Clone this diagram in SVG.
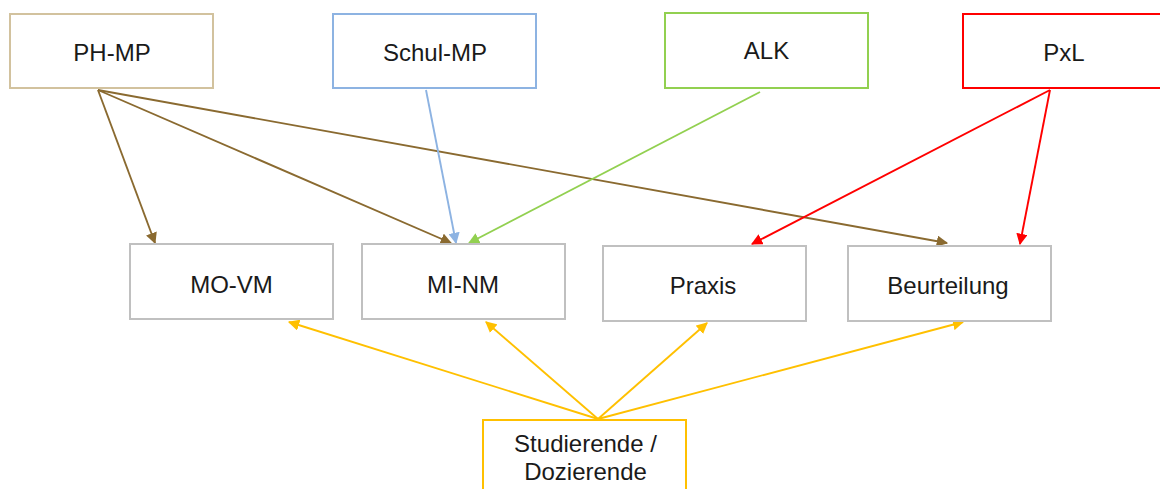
<svg xmlns="http://www.w3.org/2000/svg" width="1160" height="489" viewBox="0 0 1160 489">
  <style>
    .box { fill: #ffffff; stroke-width: 2; }
    .lbl { font-family: "Liberation Sans", Arial, sans-serif; font-size: 24px; fill: #1a1a1a; text-anchor: middle; }
    .edge { fill: none; stroke-width: 1.9; }
  </style>
  <defs>
    <marker id="ah-brown" viewBox="0 0 10 10" refX="9" refY="5" markerWidth="6" markerHeight="6" markerUnits="strokeWidth" orient="auto">
      <path d="M0,0 L10,5 L0,10 z" fill="#8a6a30"/>
    </marker>
    <marker id="ah-blue" viewBox="0 0 10 10" refX="9" refY="5" markerWidth="6" markerHeight="6" markerUnits="strokeWidth" orient="auto">
      <path d="M0,0 L10,5 L0,10 z" fill="#8db3e2"/>
    </marker>
    <marker id="ah-green" viewBox="0 0 10 10" refX="9" refY="5" markerWidth="6" markerHeight="6" markerUnits="strokeWidth" orient="auto">
      <path d="M0,0 L10,5 L0,10 z" fill="#92d050"/>
    </marker>
    <marker id="ah-red" viewBox="0 0 10 10" refX="9" refY="5" markerWidth="6" markerHeight="6" markerUnits="strokeWidth" orient="auto">
      <path d="M0,0 L10,5 L0,10 z" fill="#ff0000"/>
    </marker>
    <marker id="ah-yellow" viewBox="0 0 10 10" refX="9" refY="5" markerWidth="6" markerHeight="6" markerUnits="strokeWidth" orient="auto">
      <path d="M0,0 L10,5 L0,10 z" fill="#ffc000"/>
    </marker>
  </defs>
  <rect width="1160" height="489" fill="#ffffff"/>

  <!-- connectors -->
  <g id="connectors">
    <line class="edge" stroke="#8a6a30" x1="98" y1="90" x2="155" y2="243" marker-end="url(#ah-brown)"/>
    <line class="edge" stroke="#8a6a30" x1="98" y1="90" x2="451" y2="243" marker-end="url(#ah-brown)"/>
    <line class="edge" stroke="#8a6a30" x1="98" y1="90" x2="947" y2="243" marker-end="url(#ah-brown)"/>
    <line class="edge" stroke="#8db3e2" x1="426" y1="90" x2="456" y2="243" marker-end="url(#ah-blue)"/>
    <line class="edge" stroke="#92d050" x1="760" y1="92" x2="469" y2="243" marker-end="url(#ah-green)"/>
    <line class="edge" stroke="#ff0000" x1="1050" y1="90" x2="752" y2="244" marker-end="url(#ah-red)"/>
    <line class="edge" stroke="#ff0000" x1="1050" y1="90" x2="1020" y2="244" marker-end="url(#ah-red)"/>
    <line class="edge" stroke="#ffc000" x1="598" y1="419" x2="289" y2="322" marker-end="url(#ah-yellow)"/>
    <line class="edge" stroke="#ffc000" x1="598" y1="419" x2="486" y2="322" marker-end="url(#ah-yellow)"/>
    <line class="edge" stroke="#ffc000" x1="598" y1="419" x2="707" y2="323" marker-end="url(#ah-yellow)"/>
    <line class="edge" stroke="#ffc000" x1="598" y1="419" x2="963" y2="322" marker-end="url(#ah-yellow)"/>
  </g>

  <!-- top row -->
  <g id="ph-mp">
    <rect class="box" stroke="#d2c29e" x="10" y="14" width="203" height="74"/>
    <text class="lbl" x="112" y="61">PH-MP</text>
  </g>
  <g id="schul-mp">
    <rect class="box" stroke="#8db3e2" x="333" y="14" width="203" height="74"/>
    <text class="lbl" x="435" y="61">Schul-MP</text>
  </g>
  <g id="alk">
    <rect class="box" stroke="#92d050" x="665" y="13" width="203" height="75"/>
    <text class="lbl" x="766.5" y="59">ALK</text>
  </g>
  <g id="pxl">
    <rect class="box" stroke="#ff0000" x="963" y="14" width="203" height="74"/>
    <text class="lbl" x="1064" y="61">PxL</text>
  </g>

  <!-- middle row -->
  <g id="mo-vm">
    <rect class="box" stroke="#c0c0c0" x="130" y="244" width="203" height="75"/>
    <text class="lbl" x="231.5" y="293">MO-VM</text>
  </g>
  <g id="mi-nm">
    <rect class="box" stroke="#c0c0c0" x="362" y="244" width="203" height="75"/>
    <text class="lbl" x="463" y="293">MI-NM</text>
  </g>
  <g id="praxis">
    <rect class="box" stroke="#c0c0c0" x="603" y="246" width="203" height="75"/>
    <text class="lbl" x="703" y="294">Praxis</text>
  </g>
  <g id="beurteilung">
    <rect class="box" stroke="#c0c0c0" x="848" y="246" width="203" height="75"/>
    <text class="lbl" x="948" y="294">Beurteilung</text>
  </g>

  <!-- bottom -->
  <g id="studierende">
    <rect class="box" stroke="#ffc000" x="483" y="420" width="203" height="80"/>
    <text class="lbl" x="585.5" y="452">Studierende /</text>
    <text class="lbl" x="585.5" y="480">Dozierende</text>
  </g>
</svg>
